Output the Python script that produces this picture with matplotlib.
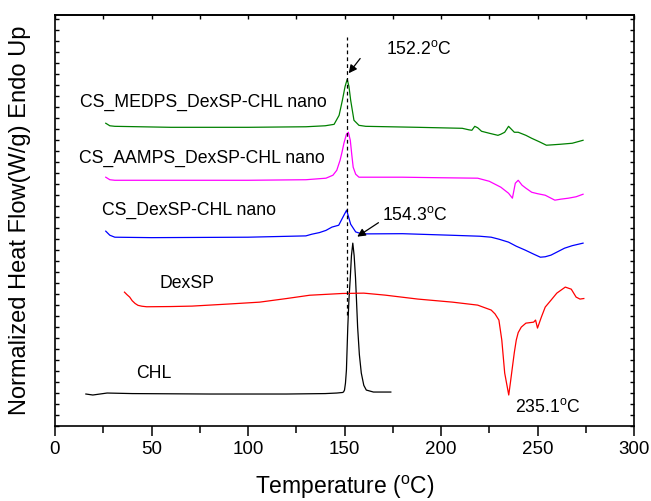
import numpy as np
import matplotlib
matplotlib.use('Agg')
import matplotlib.pyplot as plt
from matplotlib.ticker import MultipleLocator, NullFormatter

plt.rcParams['font.family'] = ['Liberation Sans', 'DejaVu Sans']
plt.rcParams['mathtext.fontset'] = 'custom'
plt.rcParams['mathtext.rm'] = 'Liberation Sans'

# ---- data (temperature in C, normalized heat flow, stacked, arbitrary units) ----
chl_t = [16, 19.6, 27, 40, 80, 120, 140, 146, 149.0, 149.5, 150.0, 150.5, 151.0,
         151.7, 152.3, 153.0, 153.6, 154.3, 155.0, 155.7, 156.2, 156.8, 157.7,
         158.7, 160, 161.3, 165, 168, 174]
chl_y = [2.91, 2.82, 3.0, 2.95, 2.91, 2.91, 2.95, 3.0, 3.05, 3.1, 3.27, 3.9, 5.1,
         9.0, 11.5, 13.5, 15.5, 16.64, 15.5, 13.5, 11.5, 9.0, 6.5,
         4.82, 3.7, 3.27, 3.09, 3.09, 3.09]

dex_t = [36.0, 37.3, 38.7, 40, 41.5, 43, 45, 47.5, 60, 71, 90, 106, 120, 132, 149,
         160, 171, 188, 206, 219, 226, 228, 230, 231.5, 233, 235.1, 236, 237, 238,
         239, 240, 241.6, 244, 248, 249, 250, 252, 254, 257, 260, 264.4, 267.5,
         270, 272, 274]
dex_y = [12.18, 11.95, 11.73, 11.4, 11.15, 10.98, 10.9, 10.85, 10.87, 10.91, 11.1,
         11.27, 11.6, 11.9, 12.06, 12.09, 11.91, 11.55, 11.27, 11.0, 10.55, 10.2,
         9.64, 7.82, 4.82, 2.82, 4.0, 5.36, 6.7, 7.82, 8.5, 9.0, 9.36, 9.45, 9.64,
         8.91, 9.91, 10.82, 11.45, 12.09, 12.64, 12.45, 11.73, 11.55, 11.6]

cs_t = [26.3, 28.4, 31, 50, 100, 130, 133, 137, 140.4, 143.5, 147, 149.7, 151.1,
        153.2, 155.8, 159, 180, 205, 220, 226, 230, 235, 239, 243.7, 248, 251.5,
        254, 257, 260, 264, 268, 273.6]
cs_y = [17.73, 17.36, 17.18, 17.14, 17.18, 17.3, 17.45, 17.6, 17.8, 18.1, 18.27,
        19.18, 19.64, 18.36, 17.66, 17.48, 17.5, 17.36, 17.27, 17.18, 17.0, 16.73,
        16.36, 16.0, 15.64, 15.36, 15.4, 15.55, 15.82, 16.18, 16.41, 16.64]

aamps_t = [26.3, 28.4, 31, 60, 100, 130, 140.4, 144, 146, 147.7, 148.7, 149.7, 151,
           152, 153, 153.8, 154.5, 155.8, 157.5, 165, 180, 200, 219, 225, 231, 235,
           237, 238.5, 240, 242, 244, 247, 250, 254, 257, 259, 262, 266, 270, 273.6]
aamps_y = [22.64, 22.41, 22.36, 22.36, 22.36, 22.41, 22.55, 22.82, 23.27, 24.18,
           24.91, 25.73, 26.55, 26.73, 26.0, 24.64, 23.55, 22.91, 22.64, 22.64,
           22.64, 22.59, 22.55, 22.27, 21.73, 21.18, 20.73, 22.09, 22.36, 21.91,
           21.64, 21.27, 21.14, 21.0, 20.73, 20.55, 20.64, 20.73, 20.86, 21.09]

medps_t = [26.3, 28.4, 31, 60, 100, 130, 140, 144.6, 147.2, 148.9, 150.3, 151.4,
           152.3, 153.2, 154.9, 157.5, 161, 188, 211, 214.5, 216, 217.5, 219, 221,
           225, 229.5, 231, 233, 235, 236.5, 238, 240, 244, 247, 251, 254.6, 258,
           262, 268, 273.6]
medps_y = [27.55, 27.32, 27.27, 27.18, 27.18, 27.23, 27.32, 27.45, 28.27, 29.64,
           30.9, 31.55, 30.9, 29.64, 27.82, 27.36, 27.27, 27.18, 27.09, 26.95,
           26.91, 27.27, 27.14, 26.82, 26.64, 26.45, 26.55, 26.73, 27.27, 27.0,
           26.73, 26.73, 26.45, 26.18, 25.86, 25.55, 25.59, 25.64, 25.73, 26.0]

series = [
    (chl_t, chl_y, 'black', 'CHL', 41.8, 4.33),
    (dex_t, dex_y, '#ff0000', 'DexSP', 53.9, 12.52),
    (cs_t, cs_y, '#0000ff', 'CS_DexSP-CHL nano', 24.1, 19.18),
    (aamps_t, aamps_y, '#ff00ff', 'CS_AAMPS_DexSP-CHL nano', 12.5, 23.97),
    (medps_t, medps_y, '#008000', 'CS_MEDPS_DexSP-CHL nano', 12.9, 29.09),
]

fig = plt.figure(figsize=(6.51, 5.01), dpi=100)
ax = fig.add_axes([55/651, 75/501, 579/651, 411/501])

for t, y, c, name, lx, ly in series:
    ax.plot(t, y, color=c, lw=0.9)
    ax.text(lx, ly, name, fontsize=12.7, va='baseline', ha='left')

# dashed guide line through the melting peak
ax.plot([151.3, 151.3], [10.09, 35.36], color='black', lw=0.9, ls=(0, (3, 2.5)))

# peak annotations
arr = dict(arrowstyle='-|>', color='black', lw=0.9, mutation_scale=12)
ax.annotate('', xy=(151.3, 31.9), xytext=(159.0, 33.64), arrowprops=arr)
ax.annotate('', xy=(155.4, 17.09), xytext=(168.8, 18.64), arrowprops=arr)
ax.text(171.4, 33.82, r'152.2$^{\mathrm{o}}$C', fontsize=12.7, va='baseline')
ax.text(169.5, 18.79, r'154.3$^{\mathrm{o}}$C', fontsize=12.7, va='baseline')
ax.text(238.4, 1.27, r'235.1$^{\mathrm{o}}$C', fontsize=12.7, va='baseline')

ax.set_xlim(0, 300)
ax.set_ylim(0, 37.4)
ax.xaxis.set_major_locator(MultipleLocator(50))
ax.xaxis.set_minor_locator(MultipleLocator(25))
ax.yaxis.set_major_locator(MultipleLocator(1))
ax.yaxis.set_major_formatter(NullFormatter())
ax.tick_params(axis='x', which='major', direction='out', length=7, width=1.1,
               labelsize=13.5, top=False)
ax.tick_params(axis='x', which='minor', direction='out', length=5, width=1.1, top=False)
ax.tick_params(axis='y', which='major', direction='in', length=3, width=1.0,
               left=True, right=True)

top = ax.secondary_xaxis('top')
top.xaxis.set_major_locator(MultipleLocator(25))
top.xaxis.set_major_formatter(NullFormatter())
top.tick_params(direction='in', length=3, width=1.0)

for s in ax.spines.values():
    s.set_linewidth(1.2)
top.spines['top'].set_linewidth(1.2)

ax.set_xlabel(r'Temperature ($^{\mathrm{o}}$C)', fontsize=16.5, labelpad=12)
ax.set_ylabel('Normalized Heat Flow(W/g) Endo Up', fontsize=17, labelpad=14)

fig.savefig('out.png', dpi=100)
